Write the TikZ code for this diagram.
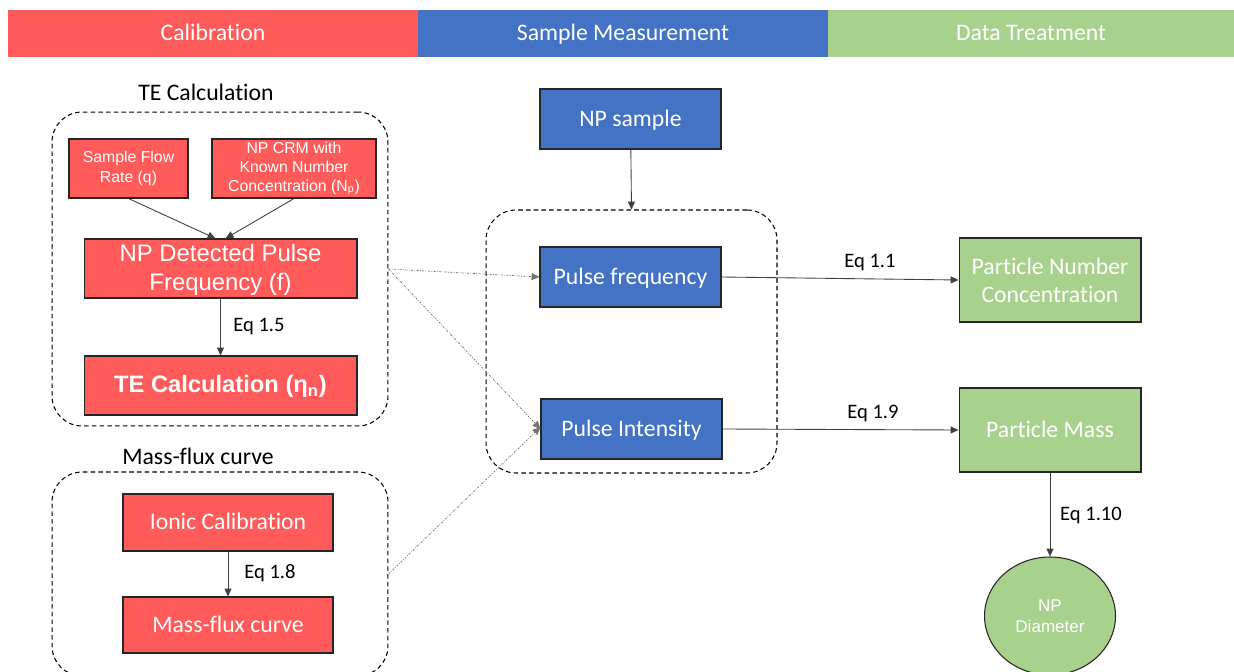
\documentclass[tikz,border=0pt]{standalone}
\usepackage{fontspec}
\setmainfont{Carlito}[Ligatures=CommonOff]
\newfontfamily\arialf{Liberation Sans}
\usetikzlibrary{arrows.meta,shapes.geometric}
\definecolor{cred}{HTML}{FF5B5B}
\definecolor{cblue}{HTML}{4472C4}
\definecolor{cgreen}{HTML}{A9D18E}
\tikzset{
  hdr/.style={rectangle, inner sep=0pt, text=white, text height=2.1ex, text depth=0.4ex, font=\fontsize{13.5}{16}\selectfont},
  box/.style={rectangle, draw=black!85, line width=0.6pt, inner sep=0pt, text=white, align=center, font=\fontsize{13.5}{16}\selectfont},
  one/.style={text height=2.1ex, text depth=0.4ex},
  redbox/.style={box, fill=cred},
  bluebox/.style={box, fill=cblue},
  greenbox/.style={box, fill=cgreen},
  grp/.style={rectangle, draw=black, dashed, dash pattern=on 2.6pt off 1.8pt, line width=0.6pt, rounded corners=0.6cm, inner sep=0pt},
  ttl/.style={font=\fontsize{13.5}{16}\selectfont, text=black},
  eql/.style={font=\fontsize{11.7}{14}\selectfont, text=black},
  conn/.style={draw=black!75, line width=0.5pt, -{Triangle[length=4.5pt,width=4pt]}},
  dotc/.style={draw=black!55, line width=0.4pt, dash pattern=on 1.2pt off 0.8pt on 0.4pt off 0.8pt, -{Triangle[length=4.5pt,width=4pt]}}
}
\begin{document}
\begin{tikzpicture}[x=0.02cm, y=-0.02cm]
\path[use as bounding box] (0,0) rectangle (1234,672);
% header
\node[hdr, fill=cred, minimum width=8.2cm, minimum height=0.94cm] (h1) at (213,33.5) {Calibration};
\node[hdr, fill=cblue, minimum width=8.2cm, minimum height=0.94cm] (h2) at (623,33.5) {Sample Measurement};
\node[hdr, fill=cgreen, minimum width=8.12cm, minimum height=0.94cm] (h3) at (1031,33.5) {Data Treatment};

% groups
\node[grp, minimum width=6.72cm, minimum height=6.28cm] (g1) at (220,269) {};
\node[grp, minimum width=6.72cm, minimum height=4.08cm] (g2) at (220,574) {};
\node[grp, minimum width=5.82cm, minimum height=5.26cm] (g3) at (631.5,341.5) {};
\node[ttl] (t1) at (206,92) {TE Calculation};
\node[ttl] (t2) at (198,456) {Mass-flux curve};

% calibration boxes
\node[redbox, minimum width=2.38cm, minimum height=1.18cm, font=\arialf\fontsize{9}{11}\selectfont] (sfr) at (128.5,168.5) {Sample Flow\\Rate (q)};
\node[redbox, minimum width=3.28cm, minimum height=1.18cm, font=\arialf\fontsize{9}{10.8}\selectfont] (crm) at (294,168.5) {NP CRM with\\Known Number\\Concentration (N\textsubscript{p})};
\node[redbox, minimum width=5.46cm, minimum height=1.18cm, text depth=0.3ex, font=\arialf\fontsize{13.6}{16.2}\selectfont] (npd) at (220.5,268.5) {NP Detected Pulse\\Frequency (f)};
\node[redbox, one, minimum width=5.46cm, minimum height=1.18cm, font=\arialf\bfseries\fontsize{13.5}{16}\selectfont] (tec) at (220.5,385.5) {TE Calculation (η\textsubscript{n})};
\node[redbox, one, minimum width=4.2cm, minimum height=1.14cm] (ion) at (228,522.5) {Ionic Calibration};
\node[redbox, one, minimum width=4.2cm, minimum height=1.12cm] (mfc) at (228,625) {Mass-flux curve};

% sample measurement
\node[bluebox, one, minimum width=3.62cm, minimum height=1.2cm] (nps) at (630.5,119) {NP sample};
\node[bluebox, one, minimum width=3.62cm, minimum height=1.2cm] (pf) at (630.5,277) {Pulse frequency};
\node[bluebox, one, minimum width=3.62cm, minimum height=1.2cm] (pi) at (631.5,429) {Pulse Intensity};

% data treatment
\node[greenbox, minimum width=3.64cm, minimum height=1.68cm] (pnc) at (1050,280) {Particle Number\\Concentration};
\node[greenbox, one, minimum width=3.64cm, minimum height=1.68cm] (pm) at (1050,430) {Particle Mass};
\node[ellipse, draw=black!85, line width=0.6pt, fill=cgreen, inner sep=0pt, minimum width=2.62cm, minimum height=2.36cm, text=white, align=center, font=\arialf\fontsize{9.7}{12}\selectfont] (dia) at (1050,616) {NP\\Diameter};

% connectors
\draw[conn] (sfr.south) -- ([xshift=-0.1cm]npd.north);
\draw[conn] (crm.south) -- ([xshift=0.1cm]npd.north);
\draw[conn] (npd) -- (tec);
\node[eql] (e15) at (259,327) {Eq 1.5};
\draw[conn] (ion) -- (mfc);
\node[eql] (e18) at (270,573) {Eq 1.8};
\draw[conn] (nps) -- (g3.north);
\draw[dotc] (g1.east) -- (pf.west);
\draw[dotc] (g1.east) -- (pi.west);
\draw[dotc] (g2.east) -- ([yshift=0.04cm]pi.west);
\draw[conn] (pf.east) -- (pnc.west);
\node[eql] (e11) at (870,263) {Eq 1.1};
\draw[conn] (pi.east) -- (pm.west);
\node[eql] (e19) at (873,413) {Eq 1.9};
\draw[conn] (pm) -- (dia);
\node[eql] (e110) at (1091,515) {Eq 1.10};
\end{tikzpicture}
\end{document}
